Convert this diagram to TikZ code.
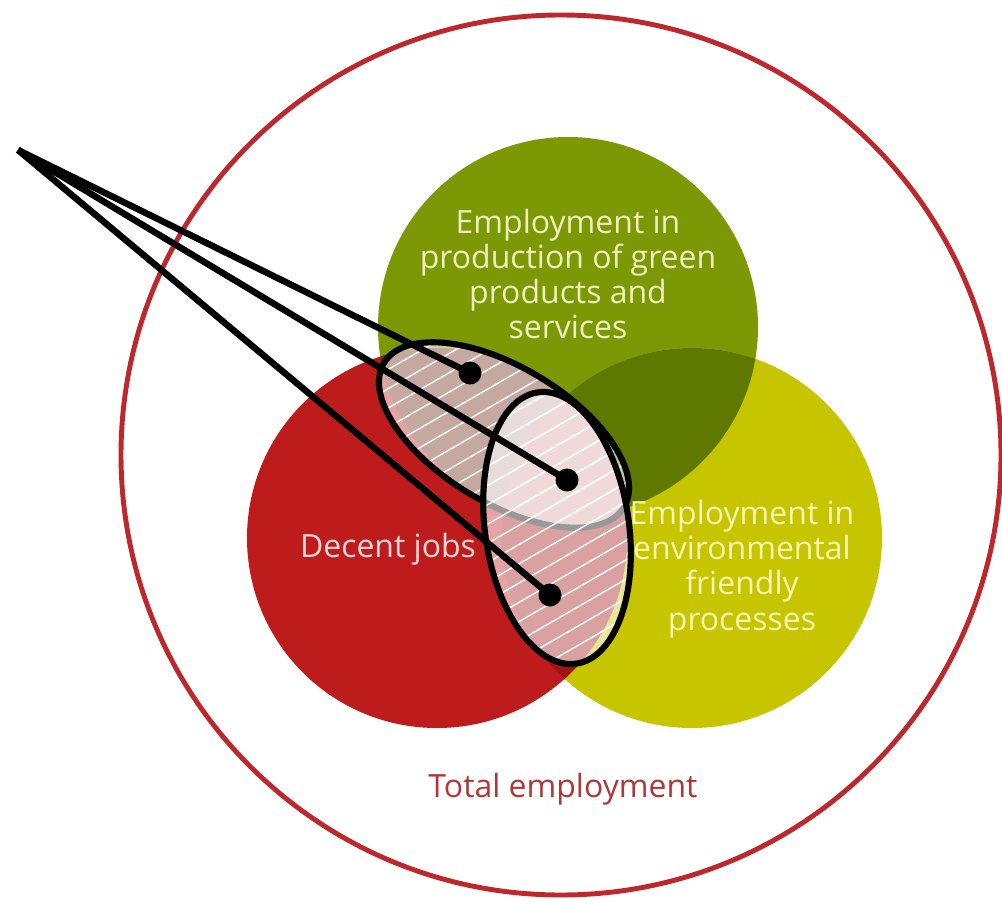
\documentclass[tikz,border=0pt]{standalone}
\usepackage{fontspec}
\setmainfont{Open Sans}
\usetikzlibrary{patterns.meta}

\definecolor{totalred}{RGB}{190,40,45}
\definecolor{greenjob}{RGB}{125,152,5}
\definecolor{yellowjob}{RGB}{199,196,0}
\definecolor{darkgreenjob}{RGB}{95,120,0}
\definecolor{redjob}{RGB}{190,28,28}
\definecolor{brownjob}{RGB}{110,40,20}
\definecolor{deepredjob}{RGB}{160,20,20}
\definecolor{palegreen}{RGB}{236,240,190}
\definecolor{paleyellow}{RGB}{246,246,178}
\definecolor{palered}{RGB}{245,215,215}
\definecolor{totaltext}{RGB}{175,55,55}

\tikzset{
	venntext/.style={align=center, font=\fontsize{18.2}{20}\selectfont},
	lens/.style={draw=black, line width=3.5pt,
		preaction={fill=white, fill opacity=0.6},
		preaction={pattern={Lines[angle=30,distance=9.5pt,line width=0.8pt]}, pattern color=white}},
	dot/.style={circle, fill=black, inner sep=0pt, minimum size=4.6mm},
	pointer/.style={draw=black, line width=3.7pt}
}

\begin{document}
\begin{tikzpicture}[x=0.2mm,y=-0.2mm]
	\useasboundingbox (0,0) rectangle (1002,902);
	
	\coordinate (T) at (561,455);
	\coordinate (G) at (568,327);
	\coordinate (R) at (437,538);
	\coordinate (Y) at (692,538);
	
	\draw[totalred, line width=2.8pt] (T) circle (440);
	\fill[greenjob] (G) circle (190);
	\fill[yellowjob] (Y) circle (190);
	\begin{scope}
		\clip (G) circle (190);
		\fill[darkgreenjob] (Y) circle (190);
	\end{scope}
	\fill[redjob] (R) circle (190);
	\begin{scope}
		\clip (R) circle (190);
		\fill[brownjob] (G) circle (190);
		\fill[deepredjob] (Y) circle (190);
	\end{scope}
	
	\node[venntext, text=palegreen] (green) at (568,274) {Employment in\\production of green\\products and\\services};
	\node[venntext, text=paleyellow] (yellow) at (742,569) {Employment in\\environmental\\friendly\\processes};
	\node[venntext, text=palered] (red) at (388,549) {Decent jobs};
	\node[venntext, text=totaltext] (total) at (563,789) {Total employment};
	
	\draw[lens] (504,435) ellipse [x radius=140, y radius=68, rotate=-31];
	\draw[lens] (557,528) ellipse [x radius=72, y radius=137, rotate=8];
	
	\coordinate (tip) at (18,150);
	\node[dot] (d1) at (470,373) {};
	\node[dot] (d2) at (567,480) {};
	\node[dot] (d3) at (550,595) {};
	
	\draw[pointer] (tip) -- (d1.center);
	\draw[pointer] (tip) -- (d2.center);
	\draw[pointer] (tip) -- (d3.center);
	
\end{tikzpicture}
\end{document}
